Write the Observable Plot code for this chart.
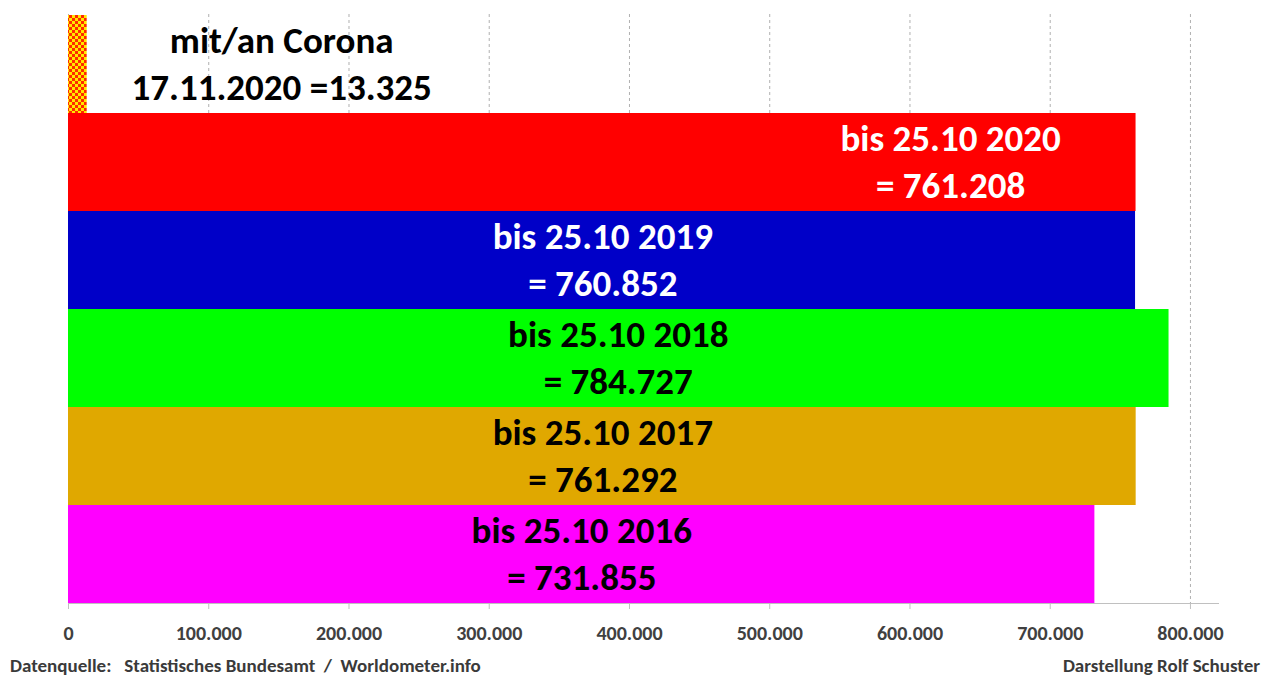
<!DOCTYPE html>
<html>
<head>
<meta charset="utf-8">
<script src="https://cdn.jsdelivr.net/npm/d3@7"></script>
<script src="https://cdn.jsdelivr.net/npm/@observablehq/plot@0.6"></script>
<style>
  html, body { margin: 0; padding: 0; background: #fff; }
  body { width: 1268px; height: 679px; overflow: hidden; font-family: Carlito, Lato, "Open Sans", sans-serif; }
  #footer { display: flex; justify-content: space-between; padding: 4px 8px 0 10px; font-size: 19px; line-height: 23px; font-weight: bold; color: #3a3a3a; }
</style>
</head>
<body>
<svg width="0" height="0" style="position:absolute">
  <defs>
    <pattern id="checker" width="6" height="6" patternUnits="userSpaceOnUse">
      <rect width="6" height="6" fill="#ffe800"/>
      <rect width="3" height="3" fill="#ff2a00"/>
      <rect x="3" y="3" width="3" height="3" fill="#ff2a00"/>
    </pattern>
  </defs>
</svg>
<div id="chart"></div>
<div id="footer"><span>Datenquelle:&nbsp;&nbsp; Statistisches Bundesamt&nbsp; /&nbsp; Worldometer.info</span><span>Darstellung Rolf Schuster</span></div>
<script>
const categories = ["Corona", "2020", "2019", "2018", "2017", "2016"];
const values = [13325, 761208, 760852, 784727, 761292, 731855];
const labels = [
  "mit/an Corona\n17.11.2020 =13.325",
  "bis 25.10 2020\n= 761.208",
  "bis 25.10 2019\n= 760.852",
  "bis 25.10 2018\n= 784.727",
  "bis 25.10 2017\n= 761.292",
  "bis 25.10 2016\n= 731.855"
];
const labelAt = [152000, 629000, 381000, 392000, 381000, 366000];
const barFills = ["url(#checker)", "#ff0000", "#0000c8", "#00ff00", "#e0a800", "#ff00ff"];
const labelColors = ["#000000", "#ffffff", "#ffffff", "#000000", "#000000", "#000000"];
const xTicks = [0, 100000, 200000, 300000, 400000, 500000, 600000, 700000, 800000];

const data = categories.map((c, i) => ({
  cat: c, value: values[i], label: labels[i], lx: labelAt[i], fill: barFills[i], tc: labelColors[i]
}));
const fmt = d => d3.format(",")(d).replace(/,/g, ".");

const chart = Plot.plot({
  width: 1268,
  height: 650,
  marginLeft: 68,
  marginRight: 50,
  marginTop: 14,
  marginBottom: 47,
  style: { fontFamily: "Carlito, Lato, 'Open Sans', sans-serif", background: "white" },
  x: { domain: [0, 820000], label: null },
  y: { domain: categories, padding: 0, axis: null },
  color: { type: "identity" },
  marks: [
    Plot.gridX(xTicks, { stroke: "#b0b0b0", strokeOpacity: 1, strokeDasharray: "3,3" }),
    Plot.barX(data, { x: "value", y: "cat", fill: "fill" }),
    Plot.frame({ anchor: "bottom", stroke: "#c0c0c0" }),
    Plot.axisX(xTicks, { tickFormat: fmt, tickSize: 6, tickPadding: 16, fontSize: 20, fontWeight: "bold", fill: "#404040", stroke: "#c0c0c0", label: null }),
    Plot.text(data, { x: "lx", y: "cat", text: "label", fill: "tc", fontSize: 37, fontWeight: "bold", lineHeight: 1.27, dy: -3 })
  ]
});
document.getElementById("chart").appendChild(chart);
</script>
</body>
</html>
